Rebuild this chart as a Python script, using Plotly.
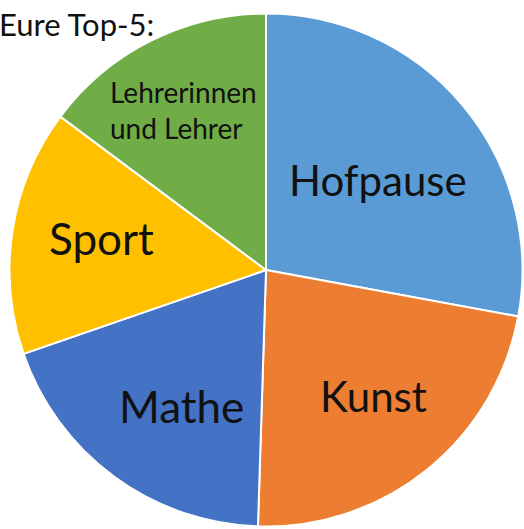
import plotly.graph_objects as go

# Data
labels = ["Hofpause", "Kunst", "Mathe", "Sport", "Lehrerinnen<br>und Lehrer"]
shares = [27.9, 22.6, 19.2, 15.5, 14.8]
colors = ["#5B9BD5", "#ED7D31", "#4472C4", "#FFC000", "#70AD47"]
title_text = "Eure Top-5:"

W, H = 524, 529

fig = go.Figure(go.Pie(
    labels=labels,
    values=shares,
    sort=False,
    direction="clockwise",
    rotation=0,
    marker=dict(colors=colors, line=dict(color="white", width=2)),
    textinfo="none",
    hoverinfo="label+percent",
    showlegend=False,
    domain=dict(x=[8 / W, 1.0], y=[2.5 / H, 515.5 / H]),
))

# label positions (pixel centres) and sizes
label_pos = [(378, 180, 42), (373, 396, 42), (181, 406, 44), (101, 238, 44), (108, 110, 28)]
for lab, (px, py, fs) in zip(labels, label_pos):
    left = "<br>" in lab
    fig.add_annotation(
        x=px / W, y=1 - py / H, xref="paper", yref="paper",
        text=lab, showarrow=False,
        xanchor="left" if left else "center", yanchor="middle",
        align="left" if left else "center",
        font=dict(family="Lato", size=fs, color="#111111"),
    )

fig.add_annotation(
    x=-3 / W, y=1 - 3 / H, xref="paper", yref="paper",
    text=title_text, showarrow=False, xanchor="left", yanchor="top",
    font=dict(family="Lato", size=31, color="#111111"),
)

fig.update_layout(
    width=W, height=H,
    margin=dict(l=0, r=0, t=0, b=0),
    paper_bgcolor="white", plot_bgcolor="white",
)

fig.write_html(
    "out.html",
    config={"displayModeBar": False},
    post_script="document.body.style.margin='0px';document.body.style.overflow='hidden';",
)
